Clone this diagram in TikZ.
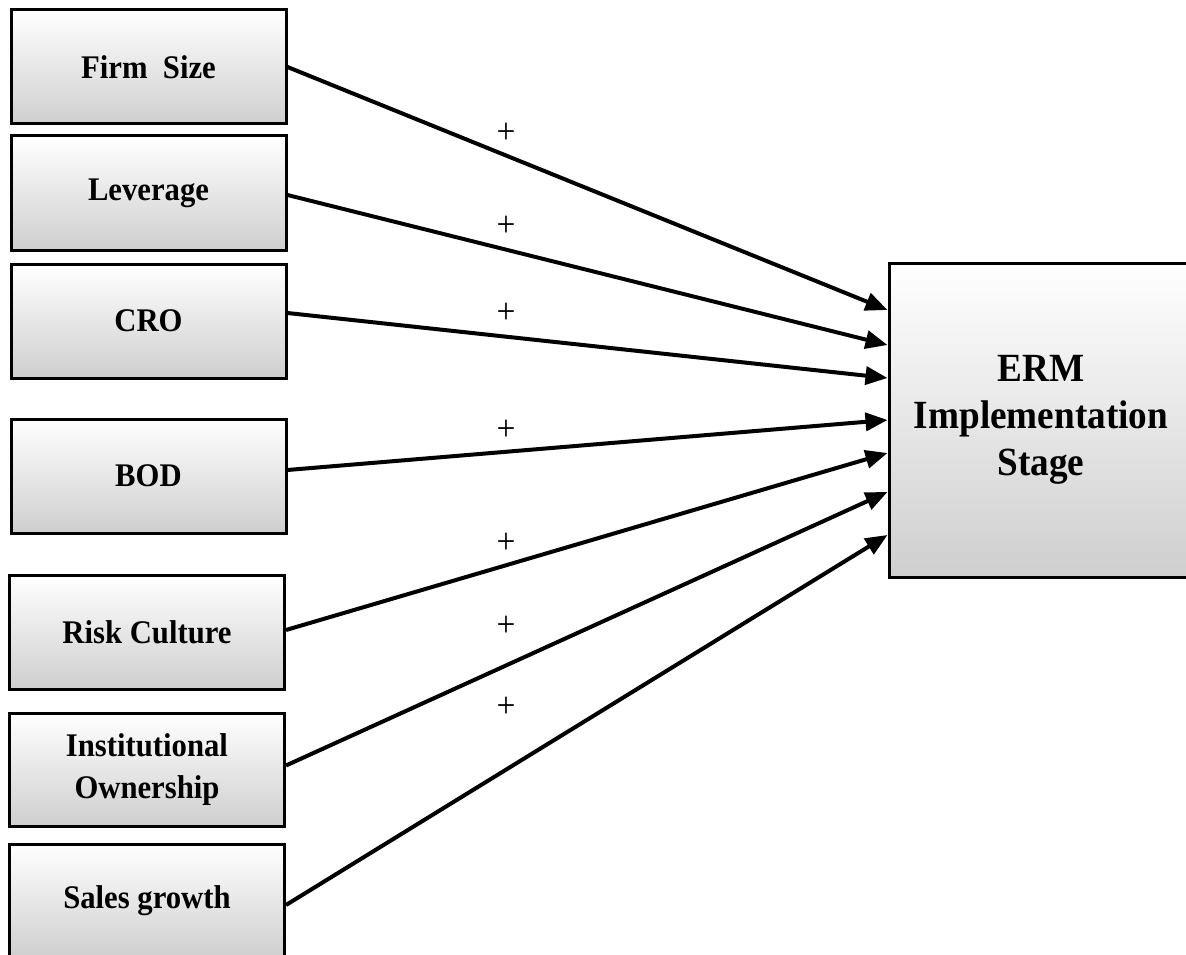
\documentclass[tikz,border=0pt]{standalone}
\usepackage{fontspec}
\setmainfont{Liberation Serif}[FakeStretch=0.93]
\usetikzlibrary{arrows.meta}
\begin{document}
\begin{tikzpicture}[x=1pt,y=-1pt,
  factor/.style={draw=black, line width=3pt, rectangle,
    top color=white, middle color=white!96!black, bottom color=black!19,
    minimum width=275pt, minimum height=114pt, inner sep=0pt,
    align=center, font=\bfseries\fontsize{33}{42}\selectfont},
  outcome/.style={factor, minimum width=304pt, minimum height=314pt,
    font=\bfseries\fontsize{40}{47}\selectfont},
  link/.style={line width=4pt, -{Triangle[length=22pt,width=18pt]}},
  sign/.style={font=\fontsize{36}{40}\selectfont, inner sep=0pt}]
  \useasboundingbox (0,0) rectangle (1186,955);

  % determinants on the left
  \node[factor] (size) at (148.5,67)  {Firm\ \ Size};
  \node[factor] (lev)  at (148.5,193) {Leverage};
  \node[factor] (cro)  at (148.5,321) {CRO};
  \node[factor] (bod)  at (148.5,476) {BOD};
  \node[factor] (risk) at (147,632)   {Risk Culture};
  \node[factor, minimum height=113pt] (inst) at (147,769.5) {Institutional\\Ownership};
  \node[factor] (sales) at (147,901)  {Sales growth};

  % outcome on the right
  \node[outcome] (erm) at (1041,420) {ERM\\Implementation\\Stage};

  % arrow targets on the outcome's left side
  \coordinate (t1) at ([yshift=110pt]erm.west);
  \coordinate (t2) at ([yshift=75pt]erm.west);
  \coordinate (t3) at ([yshift=42pt]erm.west);
  \coordinate (t4) at (erm.west);
  \coordinate (t5) at ([yshift=-33pt]erm.west);
  \coordinate (t6) at ([yshift=-72pt]erm.west);
  \coordinate (t7) at ([yshift=-115pt]erm.west);

  \draw[link] (size.east) -- (t1);
  \draw[link] ([yshift=-2pt]lev.east) -- (t2);
  \draw[link] ([yshift=8pt]cro.east) -- (t3);
  \draw[link] ([yshift=6pt]bod.east) -- (t4);
  \draw[link] ([yshift=2pt]risk.east) -- (t5);
  \draw[link] ([yshift=4pt]inst.east) -- (t6);
  \draw[link] ([yshift=-4pt]sales.east) -- (t7);

  % signs of the hypothesised effects
  \node[sign] (p1) at (506,133) {+};
  \node[sign] (p2) at (506,226) {+};
  \node[sign] (p3) at (506,313) {+};
  \node[sign] (p4) at (506,430) {+};
  \node[sign] (p5) at (506,543) {+};
  \node[sign] (p6) at (506,626) {+};
  \node[sign] (p7) at (506,707) {+};
\end{tikzpicture}
\end{document}
